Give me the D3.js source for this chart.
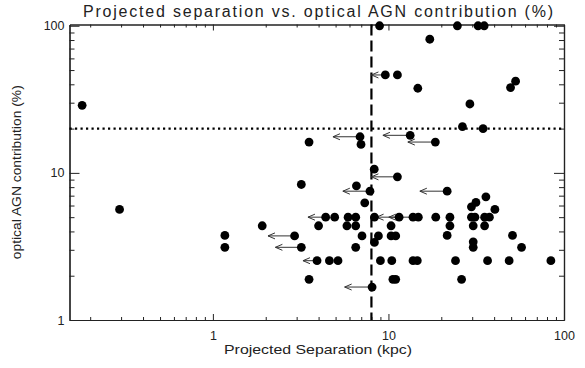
<!DOCTYPE html>
<html>
<head>
<meta charset="utf-8">
<script src="https://cdn.jsdelivr.net/npm/d3@7"></script>
<style>
  body { margin: 0; background: #fff; }
  text { font-family: "Liberation Sans", Arial, sans-serif; fill: #222; }
</style>
</head>
<body>
<div class="chart"></div>
<script>
// projected separation (kpc), optical AGN contribution (%), arrow end (kpc) for upper limits
const sepKpc = [
  8.9, 24.7, 32.4, 35.1, 17.2, 9.6, 11.25, 14.7, 49.6, 53.0, 29.1, 0.18, 26.4, 34.6,
  6.89, 6.98, 3.53, 13.3, 18.5, 8.3, 11.25, 3.19, 6.57, 7.85, 21.6, 7.33, 0.294,
  4.39, 4.94, 5.89, 6.51, 8.32, 11.5, 13.8, 14.8, 18.6, 22.4, 29.7, 31.1, 35.3, 37.6,
  29.7, 31.5, 35.9, 40.4,
  1.91, 4.0, 5.8, 6.51, 10.35, 22.4, 30.4, 35.3,
  1.17, 2.92, 7.07, 8.77, 10.35, 11.0, 21.6, 50.9,
  8.32, 30.4, 30.4,
  1.17, 3.19, 6.51, 57.3,
  3.92, 4.61, 5.16, 9.0, 10.45, 13.8, 14.6, 24.1, 36.7, 48.7, 84.2,
  3.53, 10.6, 11.0, 26.1,
  8.07
];
const agnPct = [
  100, 100, 100, 100, 81, 46.3, 46.3, 37.6, 38.0, 42.0, 29.4, 28.8, 20.6, 20.0,
  17.6, 15.6, 16.2, 18.0, 16.2, 10.6, 9.4, 8.34, 8.16, 7.51, 7.51, 6.26, 5.64,
  5.0, 5.0, 5.0, 5.0, 5.0, 5.0, 5.0, 5.0, 5.0, 5.0, 5.0, 5.0, 5.0, 5.0,
  5.88, 6.3, 6.87, 5.64,
  4.37, 4.37, 4.37, 4.37, 4.37, 4.37, 4.37, 4.37,
  3.76, 3.73, 3.73, 3.73, 3.73, 3.73, 3.76, 3.76,
  3.37, 3.40, 3.12,
  3.12, 3.12, 3.12, 3.12,
  2.53, 2.53, 2.53, 2.53, 2.53, 2.53, 2.53, 2.53, 2.53, 2.53, 2.53,
  1.89, 1.89, 1.89, 1.89,
  1.675
];
const arrowTo = [
  null, null, null, null, null, 8.0, null, null, null, null, null, null, null, null,
  4.83, null, null, 9.3, 12.9, null, 8.0, null, null, 5.5, 15.1, null, null,
  3.48, null, null, null, null, 8.56, 10.05, null, null, null, null, null, null, null,
  null, null, null, null,
  null, null, null, null, null, null, null, null,
  null, 2.06, null, null, null, null, null, null,
  null, null, null,
  null, 2.27, null, null,
  3.26, null, null, null, null, null, null, null, null, null, null,
  null, null, null, null,
  5.63
];

const xMajor = [1, 10, 100];
const xTickLabels = ["1", "10", "100"];
const yMajor = [1, 10, 100];
const yTickLabels = ["1", "10", "100"];
const sepCut = 8;   // kpc
const agnCut = 20;  // %

const title = "Projected separation vs. optical AGN contribution (%)";
const xTitle = "Projected Separation (kpc)";
const yTitle = "optical AGN contribution (%)";

const w = 585, h = 368;
const padL = 69.5, padR = 564, padT = 24.5, padB = 320;

const xScale = d3.scaleLog().domain([0.1525, 100]).range([padL, padR]);
const yScale = d3.scaleLog().domain([1, 102]).range([padB, padT]);

const minorOf = (lo, hi) => {
  let out = [];
  for (let d = lo; d < hi; d *= 10) {
    for (let k = 2; k <= 9; k++) out.push(d * k);
  }
  return out;
};
const xMinor = minorOf(0.1, 100).filter(v => v >= 0.1525 && v < 100);
const yMinor = minorOf(1, 100);

const svg = d3.select('.chart')
  .append('svg')
  .attr('width', w)
  .attr('height', h)
  .style('background', '#fff');

const axisStyle = g => {
  g.select('.domain').attr('stroke', '#222').attr('stroke-width', 1.2);
  g.selectAll('.tick line').attr('stroke', '#222').attr('stroke-width', 1);
  g.selectAll('.tick text').attr('font-size', 12.5).attr('fill', '#222')
    .style('font-family', '"Liberation Sans", Arial, sans-serif');
};

// bottom
svg.append("g").attr("transform", `translate(0, ${padB})`)
  .call(d3.axisBottom(xScale).tickValues(xMajor).tickSizeInner(-6).tickSizeOuter(0)
    .tickPadding(11).tickFormat((d, i) => xTickLabels[i]))
  .call(axisStyle);
svg.append("g").attr("transform", `translate(0, ${padB})`)
  .call(d3.axisBottom(xScale).tickValues(xMinor).tickSizeInner(-3).tickSizeOuter(0).tickFormat(""))
  .call(axisStyle);
// top
svg.append("g").attr("transform", `translate(0, ${padT})`)
  .call(d3.axisTop(xScale).tickValues(xMajor).tickSizeInner(-6).tickSizeOuter(0).tickFormat(""))
  .call(axisStyle);
svg.append("g").attr("transform", `translate(0, ${padT})`)
  .call(d3.axisTop(xScale).tickValues(xMinor).tickSizeInner(-3).tickSizeOuter(0).tickFormat(""))
  .call(axisStyle);
// left
svg.append("g").attr("transform", `translate(${padL}, 0)`)
  .call(d3.axisLeft(yScale).tickValues(yMajor).tickSizeInner(-10).tickSizeOuter(0)
    .tickPadding(5).tickFormat((d, i) => yTickLabels[i]))
  .call(axisStyle);
svg.append("g").attr("transform", `translate(${padL}, 0)`)
  .call(d3.axisLeft(yScale).tickValues(yMinor).tickSizeInner(-5).tickSizeOuter(0).tickFormat(""))
  .call(axisStyle);
// right
svg.append("g").attr("transform", `translate(${padR}, 0)`)
  .call(d3.axisRight(yScale).tickValues(yMajor).tickSizeInner(-10).tickSizeOuter(0).tickFormat(""))
  .call(axisStyle);
svg.append("g").attr("transform", `translate(${padR}, 0)`)
  .call(d3.axisRight(yScale).tickValues(yMinor).tickSizeInner(-5).tickSizeOuter(0).tickFormat(""))
  .call(axisStyle);

// reference lines
svg.append("line")
  .attr("x1", xScale(sepCut)).attr("x2", xScale(sepCut))
  .attr("y1", padT).attr("y2", padB)
  .attr("stroke", "#000").attr("stroke-width", 2.2)
  .attr("stroke-dasharray", "11,5");
svg.append("line")
  .attr("x1", padL).attr("x2", padR)
  .attr("y1", yScale(agnCut)).attr("y2", yScale(agnCut))
  .attr("stroke", "#000").attr("stroke-width", 2.2)
  .attr("stroke-dasharray", "2.2,3.3");

const pts = sepKpc.map((s, i) => ({ s, a: agnPct[i], to: arrowTo[i] }));

// upper-limit arrows
const arrows = svg.append("g")
  .attr("fill", "none").attr("stroke", "#333").attr("stroke-width", 1);
pts.filter(d => d.to !== null).forEach(d => {
  const x0 = xScale(d.s), x1 = xScale(d.to), y = yScale(d.a);
  arrows.append("path")
    .attr("d", `M${x0},${y}L${x1},${y}M${x1 + 7},${y - 3}L${x1},${y}L${x1 + 7},${y + 3}`);
});

svg.append("g")
  .selectAll("circle")
  .data(pts)
  .join("circle")
  .attr("cx", d => xScale(d.s))
  .attr("cy", d => yScale(d.a))
  .attr("r", 4.4)
  .attr("fill", "#000");

// titles
svg.append("text")
  .attr("x", (83 + 553) / 2).attr("y", 17)
  .attr("text-anchor", "middle")
  .attr("font-size", 16)
  .attr("textLength", 470).attr("lengthAdjust", "spacing")
  .text(title);

svg.append("text")
  .attr("x", 318).attr("y", 354)
  .attr("text-anchor", "middle")
  .attr("font-size", 13.5)
  .attr("textLength", 188).attr("lengthAdjust", "spacingAndGlyphs")
  .text(xTitle);

svg.append("text")
  .attr("transform", `translate(21, ${(padT + padB) / 2}) rotate(-90)`)
  .attr("text-anchor", "middle")
  .attr("font-size", 13.5)
  .attr("textLength", 174).attr("lengthAdjust", "spacingAndGlyphs")
  .text(yTitle);
</script>
</body>
</html>
